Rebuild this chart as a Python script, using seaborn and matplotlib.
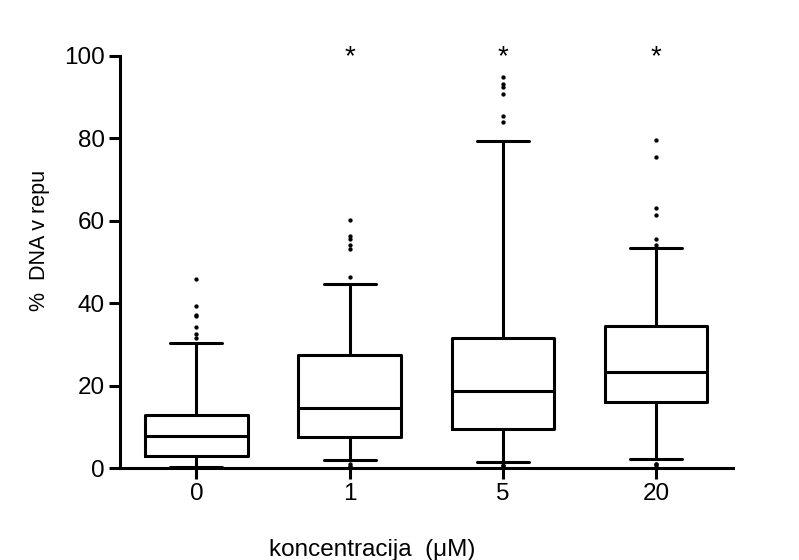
import matplotlib
matplotlib.use("Agg")
import matplotlib.pyplot as plt
import seaborn as sns

# Summary statistics of % tail DNA per concentration
categories = ["0", "1", "5", "20"]
q1 = [3.0, 7.6, 9.6, 16.1]
median = [7.8, 14.7, 18.8, 23.4]
q3 = [12.9, 27.4, 31.5, 34.6]
whisker_low = [0.3, 2.1, 1.5, 2.2]
whisker_high = [30.4, 44.7, 79.4, 53.5]
outliers_0 = [46.0, 39.4, 37.1, 36.9, 34.2, 32.5, 31.5]
outliers_1 = [60.2, 56.4, 55.5, 54.1, 53.2, 46.4, 1.0, 0.6, 0.4]
outliers_5 = [94.8, 93.2, 92.4, 90.9, 85.4, 83.9, 0.6, 0.4, 0.8]
outliers_20 = [79.5, 75.6, 63.2, 61.4, 55.5, 54.1, 0.9, 0.5, 1.0]
significant = [False, True, True, True]

sns.set_theme(style="ticks")
plt.rcParams["font.family"] = ["Liberation Sans", "DejaVu Sans"]

fig = plt.figure(figsize=(7.99, 5.6), dpi=100)
ax = fig.add_axes([0.150, 0.164, 0.767, 0.736])

outliers = [outliers_0, outliers_1, outliers_5, outliers_20]
stats = []
for i, cat in enumerate(categories):
    stats.append({
        "label": cat,
        "q1": q1[i],
        "med": median[i],
        "q3": q3[i],
        "whislo": whisker_low[i],
        "whishi": whisker_high[i],
        "fliers": outliers[i],
    })

lw = 2.2
ax.bxp(
    stats,
    positions=range(len(categories)),
    widths=0.67,
    showfliers=True,
    boxprops=dict(color="black", linewidth=lw),
    medianprops=dict(color="black", linewidth=lw),
    whiskerprops=dict(color="black", linewidth=lw),
    capprops=dict(color="black", linewidth=lw),
    capwidths=0.34,
    flierprops=dict(marker="o", markersize=2.1, markerfacecolor="black",
                    markeredgecolor="black", linestyle="none"),
)

for i, sig in enumerate(significant):
    if sig:
        ax.text(i, 99.7, "*", ha="center", va="center", fontsize=20,
                color="black")

ax.set_xlim(-0.5, 3.5)
ax.set_ylim(0, 100)
ax.set_yticks([0, 20, 40, 60, 80, 100])
ax.set_xticks(range(len(categories)))
ax.set_xticklabels(categories)
ax.tick_params(axis="both", which="major", labelsize=17.5, length=8,
               width=2.2, color="black", labelcolor="black", pad=3)
for side in ("left", "bottom"):
    ax.spines[side].set_linewidth(2.2)
    ax.spines[side].set_color("black")
sns.despine(ax=ax)
for line in ax.get_lines():
    line.set_clip_on(False)

fig.text(0.05, 0.57, "%  DNA v repu", rotation=90, ha="center", va="center",
         fontsize=15.5, color="black")
fig.text(0.466, 0.017, "koncentracija  (\u03bcM)", ha="center", va="center",
         fontsize=17.5, color="black")

fig.savefig("out.png", dpi=100, facecolor="white")
